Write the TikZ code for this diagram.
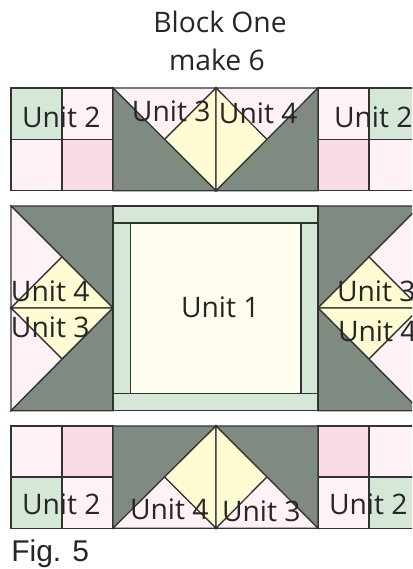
\documentclass[tikz,border=0pt]{standalone}
\usepackage{fontspec}
\setmainfont{Open Sans}
\newfontfamily\figfont{Liberation Sans}
\definecolor{qgreen}{HTML}{D5E8D8}
\definecolor{qpink}{HTML}{FFF2F7}
\definecolor{qrose}{HTML}{FADCE8}
\definecolor{qyellow}{HTML}{FFFBD3}
\definecolor{qcream}{HTML}{FFFDEE}
\definecolor{qdark}{HTML}{7F8B80}
\definecolor{qline}{HTML}{333333}
\tikzset{
  patch/.style={draw=qline,line width=0.9pt,line join=miter},
  lab/.style={anchor=base west,inner sep=0pt,outer sep=0pt,text=black!85,font=\fontsize{21.2}{25}\selectfont},
  title/.style={anchor=base,inner sep=0pt,outer sep=0pt,text=black!85,font=\fontsize{21.2}{25}\selectfont}
}
\begin{document}
\begin{tikzpicture}[x=0.75pt,y=-0.75pt]
\useasboundingbox (0,0) rectangle (412,569);
\clip (0,0) rectangle (412,569);
% four-patches
\foreach \x/\y/\c in {11/88/qgreen,62/88/qpink,11/139.5/qpink,62/139.5/qrose,
                      318/88/qpink,369/88/qgreen,318/139.5/qrose,369/139.5/qpink,
                      11/426/qpink,62/426/qrose,11/477/qgreen,62/477/qpink,
                      318/426/qrose,369/426/qpink,318/477/qpink,369/477/qgreen}
  {\filldraw[patch,fill=\c] (\x,\y) rectangle ++(51,51.3);}
% top row geese
\filldraw[patch,fill=qpink] (113,88)--(216,88)--(164.5,139.5)--cycle;
\filldraw[patch,fill=qyellow] (216,88)--(216,190.7)--(164.5,139.5)--cycle;
\filldraw[patch,fill=qdark] (113,88)--(113,190.7)--(216,190.7)--cycle;
\filldraw[patch,fill=qpink] (216,88)--(318,88)--(267,139.5)--cycle;
\filldraw[patch,fill=qyellow] (216,88)--(216,190.7)--(267,139.5)--cycle;
\filldraw[patch,fill=qdark] (318,88)--(318,190.7)--(216,190.7)--cycle;
% middle left geese
\filldraw[patch,fill=qdark] (11,206)--(113,206)--(113,308)--cycle;
\filldraw[patch,fill=qpink] (11,206)--(11,308)--(62,257)--cycle;
\filldraw[patch,fill=qyellow] (11,308)--(113,308)--(62,257)--cycle;
\filldraw[patch,fill=qyellow] (11,308)--(113,308)--(62,359)--cycle;
\filldraw[patch,fill=qpink] (11,308)--(11,410.7)--(62,359)--cycle;
\filldraw[patch,fill=qdark] (11,410.7)--(113,410.7)--(113,308)--cycle;
% middle right geese
\filldraw[patch,fill=qdark] (420,206)--(318,206)--(318,308)--cycle;
\filldraw[patch,fill=qpink] (420,206)--(420,308)--(369,257)--cycle;
\filldraw[patch,fill=qyellow] (420,308)--(318,308)--(369,257)--cycle;
\filldraw[patch,fill=qyellow] (420,308)--(318,308)--(369,359)--cycle;
\filldraw[patch,fill=qpink] (420,308)--(420,410.7)--(369,359)--cycle;
\filldraw[patch,fill=qdark] (420,410.7)--(318,410.7)--(318,308)--cycle;
% centre
\filldraw[patch,fill=qgreen] (113,206) rectangle (318,410.7);
\filldraw[patch,fill=qcream] (130.5,223) rectangle (301,393.7);
\draw[patch] (113,223)--(318,223) (113,393.7)--(318,393.7);
% bottom row geese
\filldraw[patch,fill=qdark] (113,426)--(216,426)--(113,528.3)--cycle;
\filldraw[patch,fill=qyellow] (216,426)--(216,528.3)--(164.5,477)--cycle;
\filldraw[patch,fill=qpink] (113,528.3)--(216,528.3)--(164.5,477)--cycle;
\filldraw[patch,fill=qdark] (318,426)--(216,426)--(318,528.3)--cycle;
\filldraw[patch,fill=qyellow] (216,426)--(216,528.3)--(267,477)--cycle;
\filldraw[patch,fill=qpink] (318,528.3)--(216,528.3)--(267,477)--cycle;
% labels
\node[title] (t1) at (220,32.7) {Block One};
\node[title] (t2) at (217,70.7) {make 6};
\node[lab] (a1) at (22,127) {Unit 2};
\node[lab] (a2) at (132,121.7) {Unit 3};
\node[lab] (a3) at (219,123) {Unit 4};
\node[lab] (a4) at (334,127) {Unit 2};
\node[lab] (b1) at (11,301) {Unit 4};
\node[lab] (b2) at (11,337) {Unit 3};
\node[lab] (b3) at (181,317) {Unit 1};
\node[lab] (b4) at (337,301.7) {Unit 3};
\node[lab] (b5) at (338,341) {Unit 4};
\node[lab] (c1) at (22,514) {Unit 2};
\node[lab] (c2) at (130,519) {Unit 4};
\node[lab] (c3) at (222,521.7) {Unit 3};
\node[lab] (c4) at (329,514) {Unit 2};
\node[anchor=base west,inner sep=0pt,text=black!85,font=\figfont\fontsize{22.5}{26}\selectfont] (f) at (11,561) {Fig. 5};
\end{tikzpicture}
\end{document}
